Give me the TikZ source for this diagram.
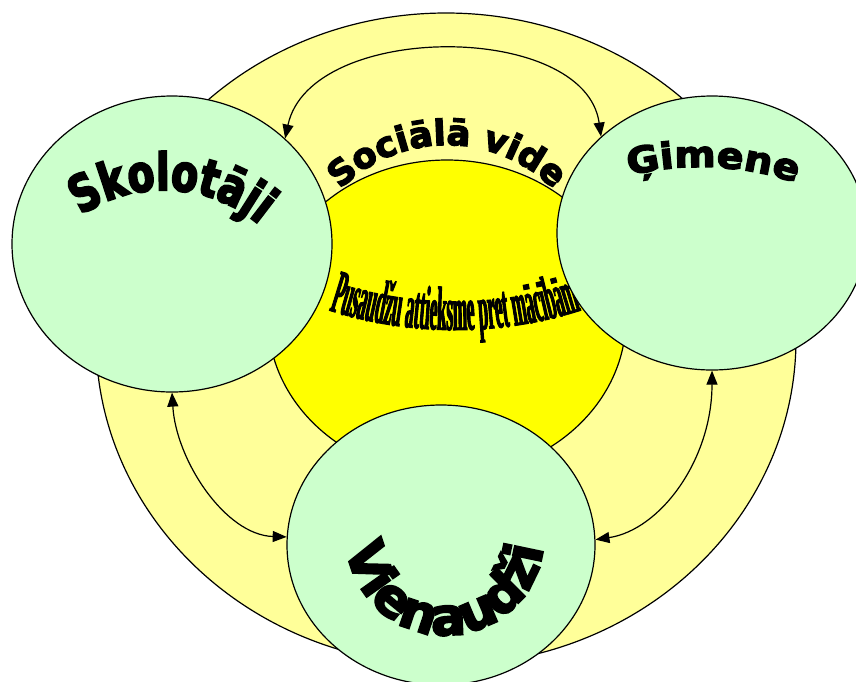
\documentclass[tikz,border=0pt]{standalone}
\usepackage{fontspec}
\usetikzlibrary{shapes.geometric,decorations.text,arrows.meta}
\newfontface\skfont{DejaVu Sans Bold}[FakeBold=4,FakeStretch=0.76]
\newfontface\hvfont{DejaVu Sans Bold}[FakeBold=4]
\newfontface\gmfont{DejaVu Sans Bold}[FakeBold=4,FakeStretch=1.1]
\newfontface\pufont{Liberation Serif Bold}[FakeBold=1.5,FakeStretch=0.28]
\definecolor{paleyellow}{HTML}{FFFF99}
\definecolor{palegreen}{HTML}{CCFFCC}
\definecolor{brightyellow}{HTML}{FFFF00}
\tikzset{
  ring/.style={ellipse, draw=black, line width=1.2pt, inner sep=0pt},
  peer/.style={ring, fill=palegreen},
  link/.style={draw=black, line width=1.2pt, {Triangle[length=14pt,width=11pt]}-{Triangle[length=14pt,width=11pt]}},
}
\begin{document}
\begin{tikzpicture}[x=1pt,y=1pt]
\useasboundingbox (0,0) rectangle (856,-681);
\node[ring, fill=paleyellow, minimum width=700pt, minimum height=652pt] (outer) at (446,-339) {};
\node[ring, fill=brightyellow, minimum width=358pt, minimum height=316pt] (inner) at (447,-318) {};
\path[decorate, decoration={text along path, text align=center,
  text={|\fontsize{62}{64}\pufont|Pusaudžu attieksme pret mācībām}}]
  ([shift={(245:413)}]455,83) arc[start angle=245, end angle=295, radius=413];
\node[peer, minimum width=320pt, minimum height=296pt] (skol) at (172,-244) {};
\node[peer, minimum width=310pt, minimum height=274pt] (gim) at (712,-233) {};
\node[peer, minimum width=308pt, minimum height=280pt] (vien) at (441,-545) {};
\draw[link] (skol.43) .. controls (310,-21) and (585,-21) .. (gim.139);
\draw[link] (skol.270) .. controls (176,-460) and (225,-535) .. (vien.177);
\draw[link] (gim.270) .. controls (712,-460) and (660,-530) .. (vien.2);
\path[decorate, decoration={text along path, text align=center,
  text={|\fontsize{51}{53}\skfont|Skolotāji}}]
  ([shift={(142:148)}]164,-338) arc[start angle=142, end angle=32, radius=148];
\path[decorate, decoration={text along path, text align=center,
  text={|\fontsize{35}{37}\hvfont|Sociālā vide}}]
  ([shift={(140:150)}]447,-295) arc[start angle=140, end angle=40, radius=150];
\path[decorate, decoration={text along path, text align=center,
  text={|\fontsize{36}{38}\gmfont|Ģimene}}]
  ([shift={(110:300)}]700,-467) arc[start angle=110, end angle=65, radius=300];
\path[decorate, decoration={text along path, text align=center,
  text={|\fontsize{52}{54}\hvfont|Vienaudži}}]
  ([shift={(180:99)}]445,-536) arc[start angle=180, end angle=360, radius=99];
\end{tikzpicture}
\end{document}
